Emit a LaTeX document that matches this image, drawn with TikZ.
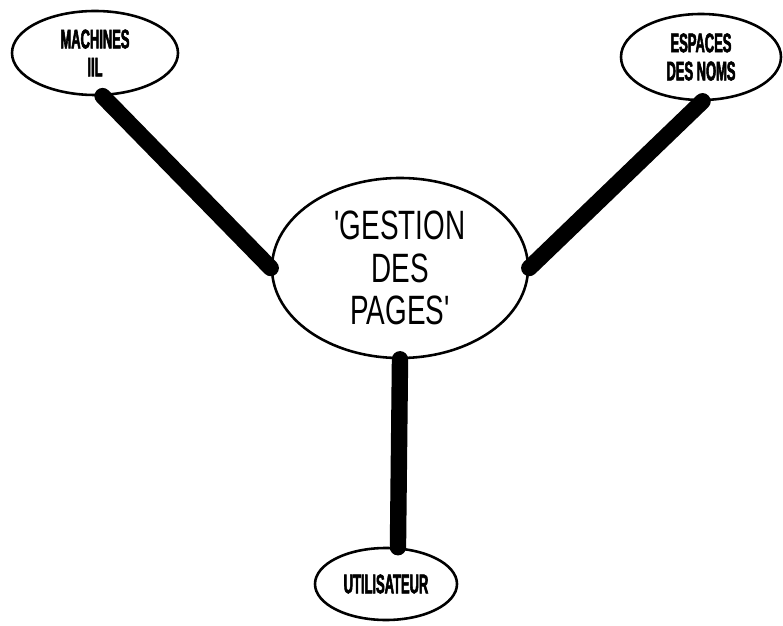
\documentclass[tikz,border=0pt]{standalone}
\usepackage{fontspec}
\usetikzlibrary{shapes.geometric}
\newfontfamily\pagesfont[FakeStretch=0.68]{Liberation Sans}
\newfontfamily\tagfont[FakeStretch=0.48,FakeBold=2]{Liberation Sans}
\tikzset{bubble/.style={ellipse,draw=black,line width=2.2pt,fill=white,
  inner sep=0pt,align=center},
  tagtext/.style={font=\tagfont\bfseries\fontsize{23}{24}\selectfont},
  link/.style={line width=14pt,line cap=round,draw=black}}

\begin{document}
\begin{tikzpicture}[x=0.03cm,y=-0.03cm]
\useasboundingbox (0,0) rectangle (783,626);
\node[bubble,tagtext,minimum width=4.98cm,minimum height=2.52cm] (mach) at (95,53){MACHINES\\IIL};
\node[bubble,tagtext,minimum width=4.8cm,minimum height=2.58cm] (esp) at (701,57){ESPACES\\DES NOMS};
\node[bubble,minimum width=7.68cm,minimum height=5.4cm,
  font=\pagesfont\fontsize{35}{36}\selectfont] (gest) at (400,268){'GESTION\\DES\\PAGES'};
\node[bubble,tagtext,minimum width=4.26cm,minimum height=2.16cm] (util) at (386,584){UTILISATEUR};
\foreach \a/\b in {mach.-80/gest.west,esp.-88/gest.east,gest.south/util.72}{
  \draw[link] (\a) -- (\b);}
\end{tikzpicture}
\end{document}
